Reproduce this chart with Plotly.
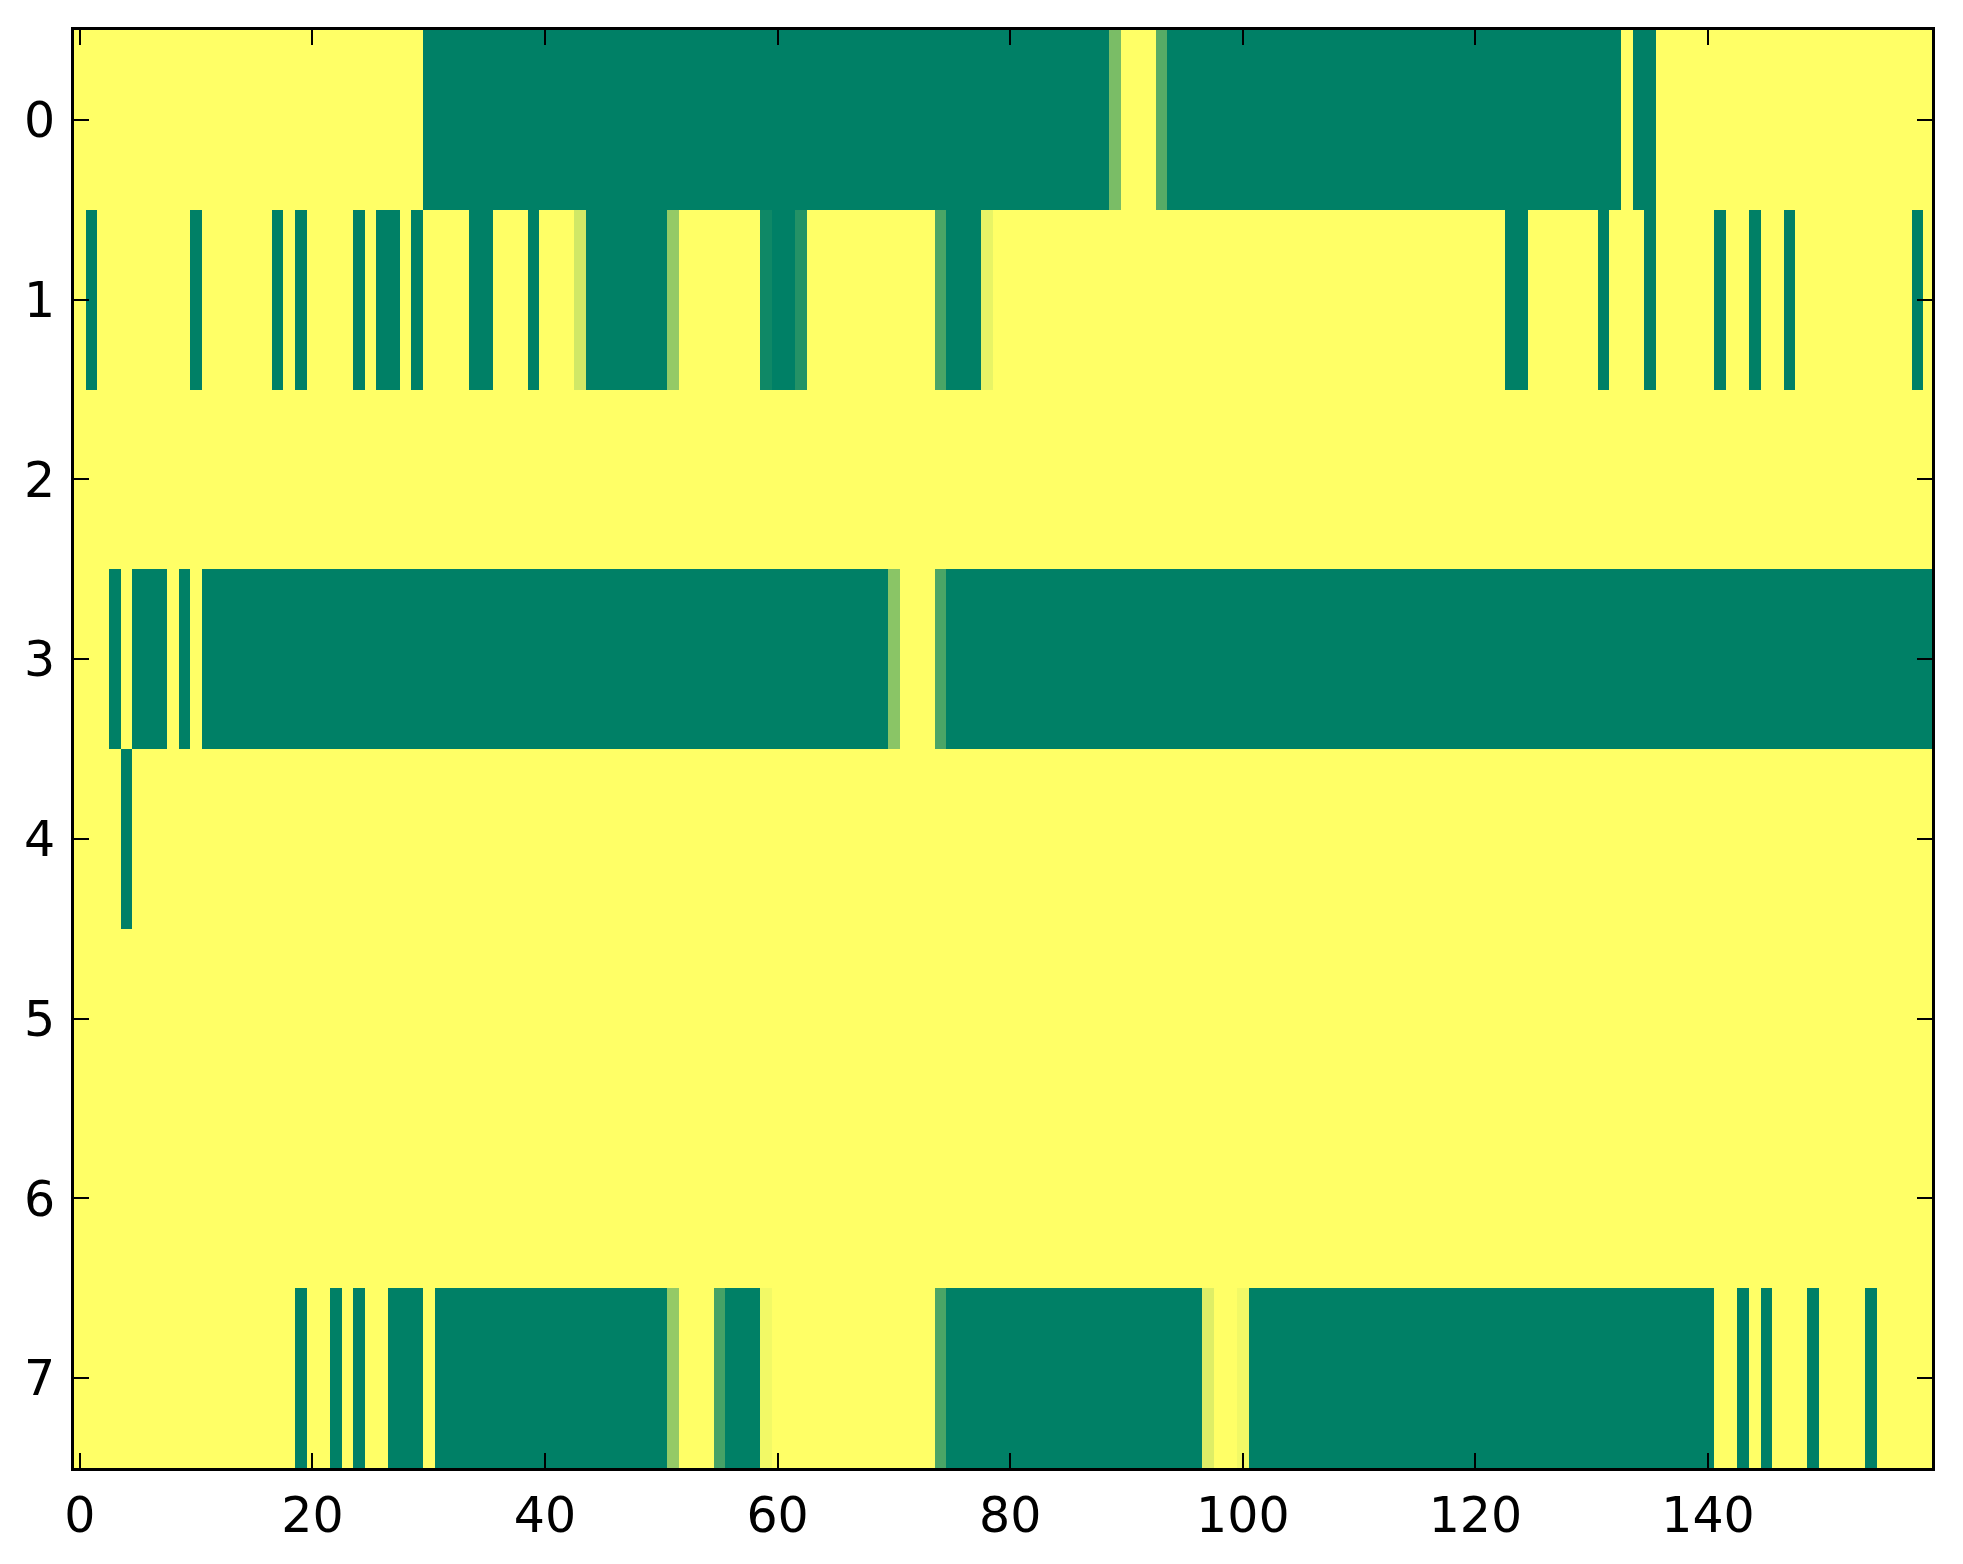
import plotly.graph_objects as go

# each row stored as runs of (value, number of columns), left to right
row0 = [(1, 30), (0, 59), (0.48, 1), (1, 3), (0.34, 1), (0, 39), (1, 1), (0, 2), (1, 24)]
row1 = [(1, 1), (0, 1), (1, 8), (0, 1), (1, 6), (0, 1), (1, 1), (0, 1), (1, 4), (0, 1),
        (1, 1), (0, 2), (1, 1), (0, 1), (1, 4), (0, 2), (1, 3), (0, 1), (1, 3), (0.82, 1),
        (0, 7), (0.58, 1), (1, 7), (0.06, 1), (0, 2), (0.14, 1), (1, 11), (0.29, 1), (0, 3),
        (0.91, 1), (1, 44), (0, 2), (1, 6), (0, 1), (1, 3), (0, 1), (1, 5), (0, 1), (1, 2),
        (0, 1), (1, 2), (0, 1), (1, 10), (0, 1), (1, 1)]
row2 = [(1, 160)]
row3 = [(1, 3), (0, 1), (1, 1), (0, 3), (1, 1), (0, 1), (1, 1), (0, 59), (0.54, 1), (1, 3),
        (0.29, 1), (0, 85)]
row4 = [(1, 4), (0, 1), (1, 155)]
row5 = [(1, 160)]
row6 = [(1, 160)]
row7 = [(1, 19), (0, 1), (1, 2), (0, 1), (1, 1), (0, 1), (1, 2), (0, 3), (1, 1), (0, 20),
        (0.58, 1), (1, 3), (0.27, 1), (0, 3), (0.95, 1), (1, 14), (0.29, 1), (0, 22),
        (0.87, 1), (1, 2), (0.95, 1), (0, 40), (1, 2), (0, 1), (1, 1), (0, 1), (1, 3),
        (0, 1), (1, 4), (0, 1), (1, 5)]

rows = [row0, row1, row2, row3, row4, row5, row6, row7]
x_ticks = [0, 20, 40, 60, 80, 100, 120, 140]
y_ticks = [0, 1, 2, 3, 4, 5, 6, 7]


def expand(runs):
    out = []
    for v, n in runs:
        out += [v] * n
    return out


z = [expand(r) for r in rows]
ncols = len(z[0])

# matplotlib "summer": green -> yellow
summer = [[0, "rgb(0,128,102)"], [1, "rgb(255,255,102)"]]

fig = go.Figure(go.Heatmap(
    z=z,
    x=list(range(ncols)),
    y=list(range(len(rows))),
    colorscale=summer,
    zmin=0, zmax=1,
    showscale=False,
    hoverinfo="skip",
))

axis_style = dict(
    showline=True, linecolor="black", linewidth=3, mirror="ticks",
    ticks="inside", ticklen=15, tickwidth=2, tickcolor="black",
    showgrid=False, zeroline=False,
    tickfont=dict(family="DejaVu Sans", size=49, color="black"),
)

fig.update_xaxes(range=[-0.5, 159.26], tickvals=x_ticks, ticklabelstandoff=2, **axis_style)
fig.update_yaxes(range=[7.5, -0.5], tickvals=y_ticks, ticklabelstandoff=6, **axis_style)

fig.update_layout(
    width=1963, height=1564,
    margin=dict(l=66, r=39, t=22, b=104),
    paper_bgcolor="white", plot_bgcolor="white",
)

fig.write_html("out.html")
